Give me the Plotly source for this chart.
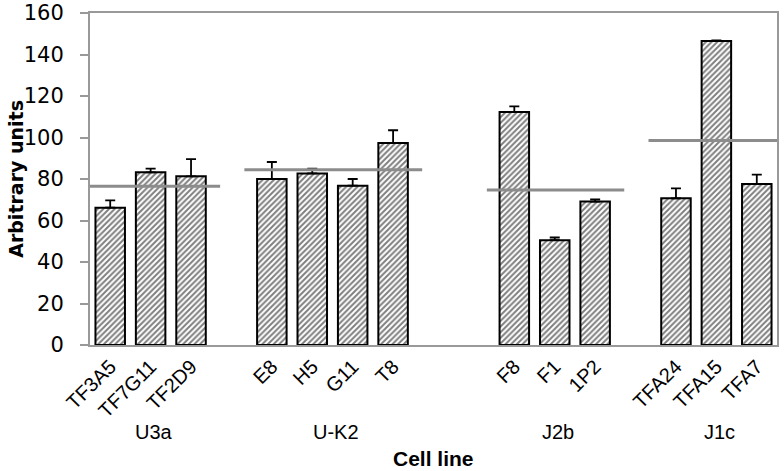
import plotly.graph_objects as go

# Data
groups = ["U3a", "U-K2", "J2b", "J1c"]
group_members = [
    ["TF3A5", "TF7G11", "TF2D9"],
    ["E8", "H5", "G11", "T8"],
    ["F8", "F1", "1P2"],
    ["TFA24", "TFA15", "TFA7"],
]
values = [66.2, 83.2, 81.3, 80.0, 82.7, 76.8, 97.3, 112.3, 50.5, 69.1, 70.7, 146.5, 77.6]
errors = [3.5, 1.8, 8.3, 8.2, 2.3, 3.2, 6.2, 2.7, 1.3, 1.1, 4.8, 0.3, 4.5]
group_means = [76.5, 84.5, 74.7, 98.5]
# number of empty slots placed before each group
gaps_before = [0, 1, 2, 1]

# Build slot positions
xs, labels, group_idx = [], [], []
pos = 0
for g, (members, gap) in enumerate(zip(group_members, gaps_before)):
    pos += gap
    for m in members:
        xs.append(pos)
        labels.append(m)
        group_idx.append(g)
        pos += 1
n_slots = pos

fig = go.Figure()
fig.add_trace(go.Bar(
    x=xs, y=values, width=0.73,
    marker=dict(color="white", line=dict(color="black", width=2),
                pattern=dict(shape="/", size=4, solidity=0.5,
                             fgcolor="black", bgcolor="white")),
    error_y=dict(type="data", symmetric=False, array=errors,
                 arrayminus=[0] * len(errors), color="black",
                 thickness=1.8, width=5),
    showlegend=False,
))

xmin, xmax = -0.5, n_slots - 0.5
for g, mean in enumerate(group_means):
    gx = [x for x, gi in zip(xs, group_idx) if gi == g]
    x0 = max(xmin, gx[0] - 0.68)
    x1 = min(xmax, gx[-1] + 0.72)
    fig.add_trace(go.Scatter(x=[x0, x1], y=[mean, mean], mode="lines",
                             line=dict(color="#8c8c8c", width=3),
                             showlegend=False, hoverinfo="skip"))
    fig.add_annotation(x=(gx[0] + gx[-1]) / 2 + 0.08, y=-0.263, yref="paper",
                       yanchor="middle", text=groups[g], showarrow=False,
                       font=dict(family="Liberation Sans", size=20, color="black"))

fig.add_annotation(x=0.5, y=-0.341, xref="paper", yref="paper", yanchor="middle",
                   text="<b>Cell line</b>", showarrow=False,
                   font=dict(family="Liberation Sans", size=21, color="black"))
fig.add_annotation(x=-0.108, y=0.5, xref="paper", yref="paper", textangle=-90,
                   xanchor="center", yanchor="middle",
                   text="<b>Arbitrary units</b>", showarrow=False,
                   font=dict(family="DejaVu Sans", size=19, color="black"))

fig.update_layout(
    width=784, height=471,
    margin=dict(l=90, r=7, t=13, b=126, autoexpand=False),
    plot_bgcolor="white", paper_bgcolor="white",
    font=dict(family="DejaVu Sans", color="black"),
    xaxis=dict(range=[xmin, xmax], tickmode="array", tickvals=xs, ticktext=labels,
               tickangle=-45, tickfont=dict(family="Liberation Sans", size=20),
               showgrid=False, automargin=False,
               showline=True, linecolor="#999999", linewidth=2, mirror=True,
               ticks="", zeroline=False),
    yaxis=dict(range=[0, 160], dtick=20, tickfont=dict(family="DejaVu Sans", size=21),
               showgrid=False, automargin=False, ticklabelstandoff=12,
               showline=True, linecolor="#999999", linewidth=2, mirror=True,
               ticks="outside", ticklen=8, tickcolor="#999999", tickwidth=2,
               zeroline=False),
)

fig.write_html("out.html", config={"displayModeBar": False},
               post_script="document.body.style.margin='0';document.body.style.overflow='hidden';")
